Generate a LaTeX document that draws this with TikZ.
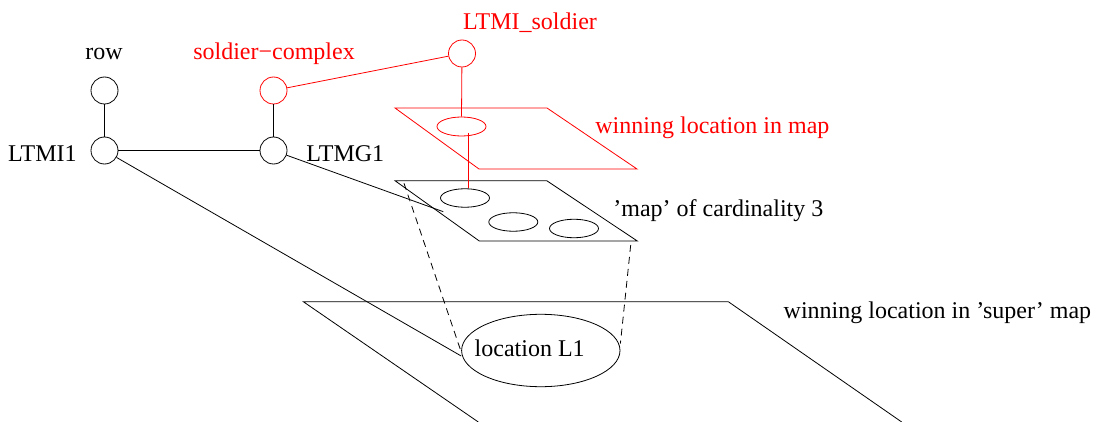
\documentclass[tikz,border=0pt]{standalone}
\usepackage{fontspec}
\setmainfont{Liberation Serif}
\newfontfamily\figfont{Liberation Serif}
\usetikzlibrary{shapes.geometric}
\begin{document}
\begin{tikzpicture}[x=1pt,y=-1pt,line width=0.8pt,
  every node/.style={font=\figfont\fontsize{24}{28}\selectfont},
  vtx/.style={circle,draw,minimum size=27pt,inner sep=0pt},
  oval/.style={ellipse,draw,inner sep=0pt,minimum width=49pt,minimum height=18.5pt},
  lbl/.style={inner sep=0pt}]
\useasboundingbox (0,0) rectangle (1094,422);
% super map
\draw (478.3,422) -- (303.3,301.7) -- (728.3,301.7) -- (901.7,422);
\node[lbl,anchor=base west] (suplbl) at (783.3,318.3) {winning location in ’super’ map};
% location L1
\node[ellipse,draw,inner sep=0pt,minimum width=158.4pt,minimum height=72.4pt] (loc) at (540.8,350.5) {};
\node[lbl,anchor=base west] (loclbl) at (474.3,356.7) {location L1};
% map of cardinality 3
\draw (395,180.7) -- (546.7,180.7) -- (637.3,241) -- (479.3,241) -- cycle;
\node[oval] (m1) at (465,198) {};
\node[oval] (m2) at (513.3,222) {};
\node[oval] (m3) at (574,228.5) {};
\node[lbl,anchor=base west] (maplbl) at (613,216.7) {’map’ of cardinality 3};
\coordinate (mapl) at (404,183.3);
\coordinate (mapr) at (630.7,245);
\coordinate (mapin) at (443.3,211.7);
\draw[dashed,dash pattern=on 7pt off 5pt] (mapl) -- ([yshift=-1.5pt]loc.west);
\draw[dashed,dash pattern=on 7pt off 5pt] (mapr) -- ([yshift=7pt]loc.east);
% red winning location in map
\begin{scope}[red]
\draw (395,108) -- (547,108) -- (637,169) -- (479,169) -- cycle;
\node[oval,minimum width=49pt,minimum height=19pt] (rell) at (461.5,126.5) {};
\node[lbl,anchor=base west] (winlbl) at (595,133.3) {winning location in map};
\node[vtx] (ltmis) at (462,53.5) {};
\node[lbl,anchor=base] (ltmislbl) at (530,30) {LTMI\_soldier};
\node[vtx] (sc) at (273.5,90.5) {};
\node[lbl,anchor=base] (sclbl) at (274,60) {soldier−complex};
\draw (sc) -- (ltmis);
\draw (ltmis) -- (rell.north);
\draw ([xshift=6.5pt,yshift=3.5pt]rell.south) -- ([xshift=3pt]m1.north);
\end{scope}
% black graph
\node[vtx] (row) at (104.5,90.5) {};
\node[lbl,anchor=base] (rowlbl) at (104,60) {row};
\node[vtx] (ltmi1) at (104.5,150.5) {};
\node[lbl,anchor=base east] (ltmi1lbl) at (77,161.7) {LTMI1};
\node[vtx] (ltmg1) at (273.5,150.5) {};
\node[lbl,anchor=base west] (ltmg1lbl) at (306,161.7) {LTMG1};
\draw (row) -- (ltmi1);
\draw (ltmi1) -- (ltmg1);
\draw (sc) -- (ltmg1);
\draw (ltmg1) -- (mapin);
\draw (ltmi1) -- ([yshift=-5.5pt]loc.west);
\end{tikzpicture}
\end{document}
